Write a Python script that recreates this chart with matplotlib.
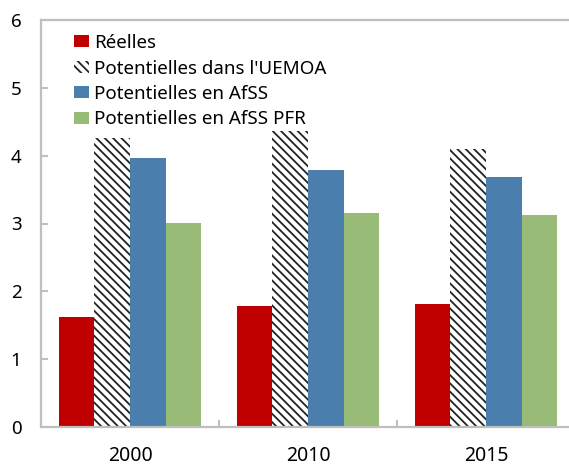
import matplotlib
matplotlib.use("Agg")
import matplotlib.pyplot as plt
import numpy as np

plt.rcParams['font.family'] = ['Noto Sans', 'DejaVu Sans']
plt.rcParams['hatch.linewidth'] = 1.3

years = ["2000", "2010", "2015"]
series_names = ["Réelles", "Potentielles dans l'UEMOA", "Potentielles en AfSS", "Potentielles en AfSS PFR"]
reelles = [1.62, 1.79, 1.82]
uemoa = [4.26, 4.37, 4.10]
afss = [3.96, 3.79, 3.68]
afss_pfr = [3.01, 3.15, 3.13]
yticks = [0, 1, 2, 3, 4, 5, 6]

W, H = 569, 468
fig = plt.figure(figsize=(W / 100, H / 100), dpi=100)
ax = fig.add_axes([41 / W, 1 - 427 / H, 528 / W, 407 / H])

x = np.arange(len(years))
bw = 0.2
colors = ["#C00000", "white", "#4A7EAD", "#98BB78"]
data = [reelles, uemoa, afss, afss_pfr]
for i, (vals, name, c) in enumerate(zip(data, series_names, colors)):
    offs = (i - 1.5) * bw
    if i == 1:
        ax.bar(x + offs, vals, bw, color="white", edgecolor="#222222", linewidth=0,
               hatch="\\\\\\\\", label=name)
    else:
        ax.bar(x + offs, vals, bw, color=c, linewidth=0, label=name)

ax.set_xlim(-0.5, 2.466)
ax.set_ylim(0, 6)
ax.set_yticks(yticks)
ax.set_xticks(x)
ax.set_xticklabels(years)
ax.set_xticks([0.5, 1.5], minor=True)

for s in ["left", "top", "bottom"]:
    ax.spines[s].set_color("#BFBFBF")
    ax.spines[s].set_linewidth(1.6)
ax.spines["right"].set_visible(False)

ax.tick_params(axis="y", direction="in", length=5, width=1.5, color="#BFBFBF",
               labelsize=13.5, pad=14)
ax.tick_params(axis="x", which="major", length=0, labelsize=14, pad=14)
ax.tick_params(axis="x", which="minor", direction="in", length=5, width=1.5, color="#BFBFBF")

leg = ax.legend(loc="upper left", bbox_to_anchor=(33 / 528, 1 - 14 / 407), frameon=False,
                fontsize=13.5, borderaxespad=0, borderpad=0, handlelength=0.8,
                handleheight=0.6, handletextpad=0.25, labelspacing=0.4)

fig.savefig("out.png", dpi=100)
